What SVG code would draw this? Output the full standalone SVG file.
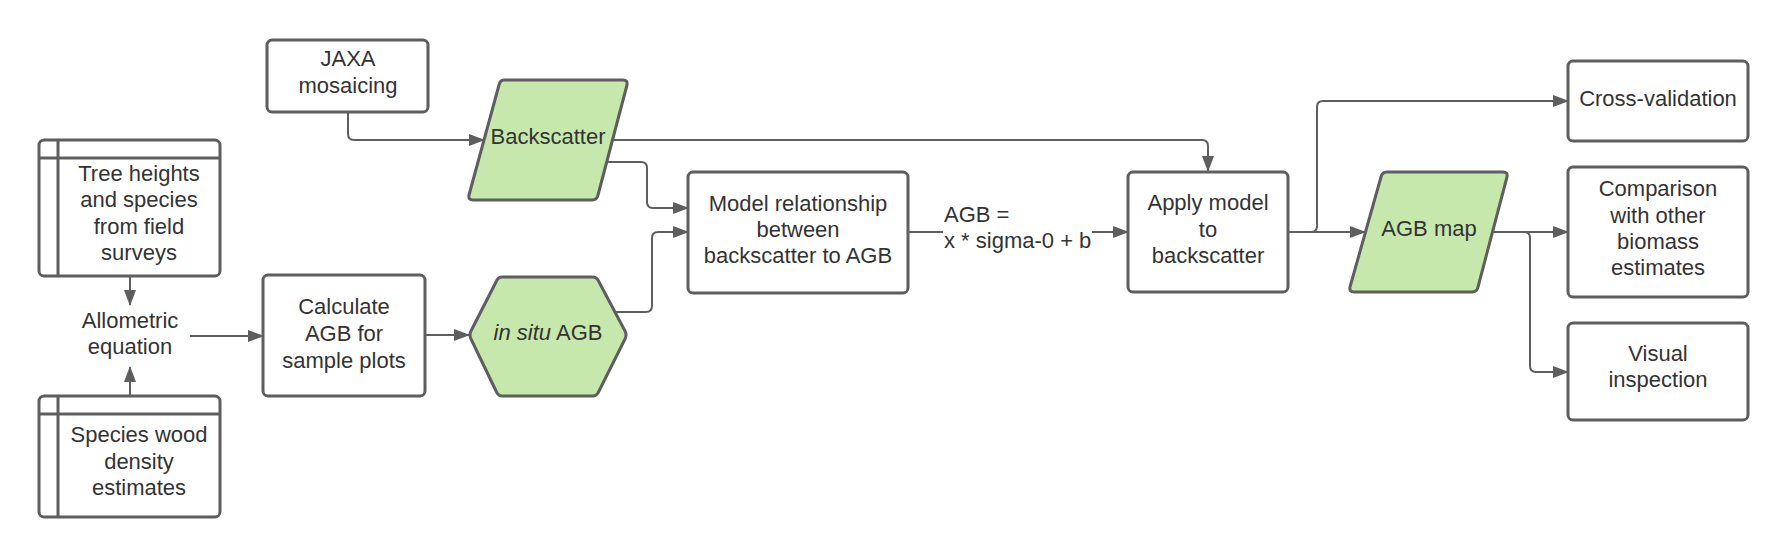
<svg xmlns="http://www.w3.org/2000/svg" width="1788" height="556" viewBox="0 0 1788 556">
<style>
.box{fill:#ffffff;stroke:#5e5e5e;stroke-width:3;stroke-linejoin:round}
.data{fill:#c7e8ac;stroke:#5e5e5e;stroke-width:3;stroke-linejoin:round}
.ln{fill:none;stroke:#5e5e5e;stroke-width:3}
.con{fill:none;stroke:#5e5e5e;stroke-width:2;marker-end:url(#arr)}
.seg{fill:none;stroke:#5e5e5e;stroke-width:2}
text{font-family:"Liberation Sans",Arial,sans-serif;font-size:22px;fill:#333333;text-anchor:middle}
.lbl{text-anchor:start}
</style>
<defs>
<marker id="arr" viewBox="0 0 16 12" markerWidth="16" markerHeight="12" refX="15" refY="6" orient="auto" markerUnits="userSpaceOnUse">
<path d="M0,0 L16,6 L0,12 z" fill="#5e5e5e"/>
</marker>
</defs>
<rect width="1788" height="556" fill="#ffffff"/>

<g id="connectors">
<path class="con" d="M130,277 V305"/>
<path class="con" d="M130,396 V367"/>
<path class="con" d="M190,336 H263"/>
<path class="con" d="M348,113 V134 Q348,140 354,140 H484"/>
<path class="con" d="M425,335 H469"/>
<path class="con" d="M612,140 H1202 Q1208,140 1208,146 V171"/>
<path class="con" d="M606,162 H641 Q647,162 647,168 V202 Q647,208 653,208 H688"/>
<path class="con" d="M614,312 H646 Q652,312 652,306 V238 Q652,232 658,232 H688"/>
<path class="seg" d="M909,232 H943"/>
<path class="con" d="M1092,232 H1128"/>
<path class="con" d="M1288,232 H1365"/>
<path class="con" d="M1311,232 Q1317,232 1317,226 V107 Q1317,101 1323,101 H1568"/>
<path class="con" d="M1492,232 H1568"/>
<path class="con" d="M1524,232 Q1530,232 1530,238 V366 Q1530,372 1536,372 H1568"/>
<text class="lbl" x="944" y="222">AGB =</text>
<text class="lbl" x="944" y="248">x * sigma-0 + b</text>
</g>

<g id="tree-heights">
<rect class="box" x="39" y="140" width="181" height="136" rx="5"/>
<path class="ln" d="M39,158 H220 M58,140 V276"/>
<text x="139" y="181">Tree heights</text>
<text x="139" y="207">and species</text>
<text x="139" y="234">from field</text>
<text x="139" y="260">surveys</text>
</g>

<g id="wood-density">
<rect class="box" x="39" y="396" width="181" height="121" rx="5"/>
<path class="ln" d="M39,414 H220 M58,396 V517"/>
<text x="139" y="442">Species wood</text>
<text x="139" y="469">density</text>
<text x="139" y="495">estimates</text>
</g>

<g id="allometric">
<text x="130" y="328">Allometric</text>
<text x="130" y="354">equation</text>
</g>

<g id="jaxa">
<rect class="box" x="267" y="40" width="161" height="72" rx="5"/>
<text x="348" y="66">JAXA</text>
<text x="348" y="93">mosaicing</text>
</g>

<g id="calculate">
<rect class="box" x="263" y="275" width="162" height="121" rx="5"/>
<text x="344" y="314">Calculate</text>
<text x="344" y="341">AGB for</text>
<text x="344" y="368">sample plots</text>
</g>

<g id="backscatter">
<path class="data" d="M504,80 H623 Q628,80 627,85 L598,195 Q597,200 592,200 H473 Q468,200 469,195 L499,85 Q500,80 504,80 Z"/>
<text x="548" y="144">Backscatter</text>
</g>

<g id="insitu">
<path class="data" d="M502,277 H593 Q596,277 598,280 L625,331 Q627,335 625,339 L598,393 Q596,396 593,396 H502 Q499,396 497,393 L471,339 Q469,335 471,331 L497,280 Q499,277 502,277 Z"/>
<text x="548" y="340"><tspan font-style="italic">in situ</tspan> AGB</text>
</g>

<g id="model">
<rect class="box" x="688" y="172" width="220" height="121" rx="5"/>
<text x="798" y="211">Model relationship</text>
<text x="798" y="237">between</text>
<text x="798" y="263">backscatter to AGB</text>
</g>

<g id="apply">
<rect class="box" x="1128" y="172" width="160" height="120" rx="5"/>
<text x="1208" y="210">Apply model</text>
<text x="1208" y="237">to</text>
<text x="1208" y="263">backscatter</text>
</g>

<g id="agbmap">
<path class="data" d="M1387,172 H1503 Q1508,172 1507,177 L1478,287 Q1477,292 1472,292 H1354 Q1349,292 1350,287 L1381,177 Q1382,172 1387,172 Z"/>
<text x="1429" y="236">AGB map</text>
</g>

<g id="crossval">
<rect class="box" x="1568" y="61" width="180" height="80" rx="5"/>
<text x="1658" y="106">Cross-validation</text>
</g>

<g id="comparison">
<rect class="box" x="1568" y="167" width="180" height="130" rx="5"/>
<text x="1658" y="196">Comparison</text>
<text x="1658" y="223">with other</text>
<text x="1658" y="249">biomass</text>
<text x="1658" y="275">estimates</text>
</g>

<g id="visual">
<rect class="box" x="1568" y="323" width="180" height="97" rx="5"/>
<text x="1658" y="361">Visual</text>
<text x="1658" y="387">inspection</text>
</g>
</svg>
